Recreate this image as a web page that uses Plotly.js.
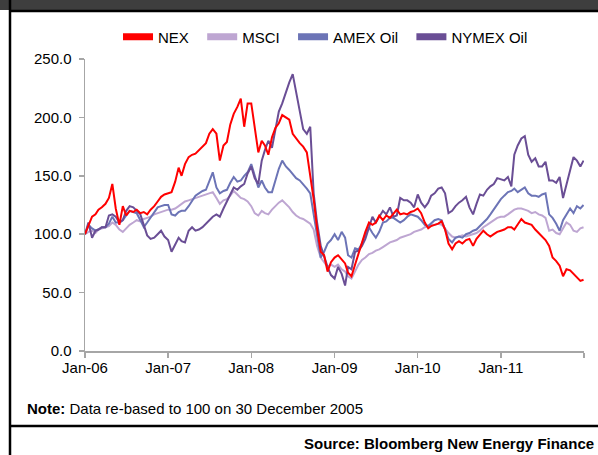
<!DOCTYPE html>
<html>
<head>
<meta charset="utf-8">
<script src="https://cdn.plot.ly/plotly-3.0.1.min.js"></script>
<style>html,body{margin:0;padding:0;background:#fff;}#chart{width:598px;height:455px;}</style>
</head>
<body>
<div id="chart"></div>
<script>
// Semi-monthly observation grid: 1st and 16th of each month, Jan 2006 - Dec 2011
var dates = [];
for (var yr = 2006; yr <= 2011; yr++) {
  for (var mo = 1; mo <= 12; mo++) {
    var mm = (mo < 10 ? '0' : '') + mo;
    dates.push(yr + '-' + mm + '-01');
    dates.push(yr + '-' + mm + '-16');
  }
}
dates.push('2011-12-30');

var seriesNames = ['NEX', 'MSCI', 'AMEX Oil', 'NYMEX Oil'];

var nex = [
100,108,115,117,121,123,126,131,143,122,108,124,116,120,119,121,118,119,117,121,124,128,132,134,
135,136,145,157,150,160,166,168,169,172,175,178,186,190,186,163,176,179,194,203,209,216,192,212,
212,190,170,180,176,168,183,191,195,202,200,198,186,182,178,175,170,150,130,105,85,82,68,76,
80,82,78,75,67,64,74,84,92,102,110,108,110,116,112,116,114,118,121,117,118,117,119,120,
122,118,110,105,107,108,109,111,104,92,87,92,94,92,95,96,90,96,100,103,100,98,100,102,
103,104,106,106,104,108,113,110,109,108,104,101,98,95,90,80,77,73,64,70,69,66,63,60,61
];

var msci = [
100,102,103,101,104,105,106,107,110,108,104,102,105,108,110,112,111,113,114,115,117,118,119,120,
121,121,122,124,126,128,129,130,131,132,133,134,135,136,131,126,129,130,133,137,134,131,130,128,
124,118,116,120,118,117,121,124,127,129,126,123,119,116,114,113,111,109,104,90,80,76,72,74,
72,74,70,68,64,62,68,74,78,80,83,84,86,87,89,91,93,94,95,97,98,99,100,102,
103,104,106,107,108,108,109,108,105,101,98,97,98,99,98,99,100,101,103,106,108,110,112,114,
115,115,117,119,121,122,122,121,120,118,119,117,116,114,103,104,101,100,105,110,108,103,102,105,106
];

var amex = [
100,108,105,103,104,106,106,109,115,110,110,112,116,120,119,118,112,106,110,114,118,123,124,125,
125,117,116,119,120,120,124,129,133,135,137,138,146,153,140,135,137,138,144,149,145,146,150,153,
160,150,140,146,140,136,136,146,156,163,158,155,151,148,146,143,139,135,118,100,80,85,92,95,
100,95,102,97,82,80,88,87,92,100,106,101,97,102,110,111,114,114,112,110,112,115,117,116,
115,112,108,107,109,112,113,112,104,96,93,97,98,97,100,101,103,104,107,110,113,117,121,126,
130,133,136,137,139,136,138,140,135,133,133,132,134,135,117,114,109,103,112,117,122,118,124,122,125
];

var nymex = [
100,110,97,103,104,106,106,116,117,115,110,112,120,124,123,120,117,108,99,96,97,100,103,98,
95,85,92,97,94,93,103,106,103,104,106,109,112,115,117,115,122,128,133,140,138,141,143,152,
158,148,143,163,172,180,174,190,205,212,222,230,237,222,205,190,186,192,135,110,90,80,72,65,
62,72,66,56,72,70,85,86,90,96,106,115,110,115,120,117,123,115,116,131,129,129,127,123,
134,127,123,127,133,135,139,140,135,118,120,124,127,129,132,123,117,126,134,133,138,141,143,148,
147,146,149,141,168,176,182,184,168,162,165,158,158,162,146,146,144,149,131,143,154,166,163,158,163
];

var tickDates = ['2006-01-01','2007-01-01','2008-01-01','2009-01-01','2010-01-01','2011-01-01','2012-01-01'];
var tickLabels = ['Jan-06','Jan-07','Jan-08','Jan-09','Jan-10','Jan-11',''];
var yTicks = [0, 50, 100, 150, 200, 250];
var yTickLabels = ['0.0', '50.0', '100.0', '150.0', '200.0', '250.0'];

var colors = {
  'NEX': '#ff0000',
  'MSCI': '#bea6d2',
  'AMEX Oil': '#6c74b6',
  'NYMEX Oil': '#6a4e95'
};
var values = {'NEX': nex, 'MSCI': msci, 'AMEX Oil': amex, 'NYMEX Oil': nymex};

var traces = [];
// drawing order: MSCI, AMEX, NYMEX, NEX on top
['MSCI', 'AMEX Oil', 'NYMEX Oil', 'NEX'].forEach(function (n) {
  traces.push({
    type: 'scatter', mode: 'lines', x: dates, y: values[n], name: n,
    line: {color: colors[n], width: 2}, showlegend: false, hoverinfo: 'skip'
  });
});
// legend entries (thick swatches); trailing non-breaking spaces widen item spacing
seriesNames.forEach(function (n) {
  traces.push({
    type: 'scatter', mode: 'lines', x: [null], y: [null], name: n + '&nbsp;&nbsp;',
    line: {color: colors[n], width: 7}, showlegend: true
  });
});

function px(x) { return (x - 85) / 499; }
function py(y) { return (351 - y) / 292; }

var layout = {
  width: 598, height: 455,
  margin: {l: 85, r: 14, t: 59, b: 104},
  paper_bgcolor: '#ffffff', plot_bgcolor: '#ffffff',
  font: {family: 'Liberation Sans, Arial, sans-serif', size: 15, color: '#000'},
  showlegend: true,
  legend: {
    orientation: 'h', x: 0.49, xanchor: 'center', y: py(37), yanchor: 'middle',
    font: {size: 15, color: '#000'}, itemwidth: 30, tracegroupgap: 0,
    bgcolor: 'rgba(0,0,0,0)'
  },
  xaxis: {
    type: 'date', range: ['2006-01-01', '2012-01-01'],
    tickmode: 'array', tickvals: tickDates, ticktext: tickLabels,
    showgrid: false, zeroline: false, showline: true, linecolor: '#a6a6a6', linewidth: 1.5,
    ticks: 'outside', ticklen: 5, tickcolor: '#a6a6a6', tickwidth: 1.5,
    tickfont: {size: 15, color: '#000'}, ticklabelstandoff: -3, fixedrange: true
  },
  yaxis: {
    range: [0, 250], tickmode: 'array', tickvals: yTicks, ticktext: yTickLabels,
    showgrid: false, zeroline: false, showline: true, linecolor: '#a6a6a6', linewidth: 1.5,
    ticks: 'outside', ticklen: 5, tickcolor: '#a6a6a6', tickwidth: 1.5,
    tickfont: {size: 15, color: '#000'}, ticklabelstandoff: 4, fixedrange: true
  },
  shapes: [
    {type: 'rect', xref: 'paper', yref: 'paper', x0: px(0), x1: px(598), y0: py(0), y1: py(10),
     fillcolor: '#3e3e3e', line: {width: 0}},
    {type: 'line', xref: 'paper', yref: 'paper', x0: px(10), x1: px(598), y0: py(11), y1: py(11),
     line: {color: '#000', width: 2.5}},
    {type: 'line', xref: 'paper', yref: 'paper', x0: px(10), x1: px(10), y0: py(0), y1: py(455),
     line: {color: '#000', width: 2.5}},
    {type: 'line', xref: 'paper', yref: 'paper', x0: px(10), x1: px(598), y0: py(426), y1: py(426),
     line: {color: '#000', width: 2.5}}
  ],
  annotations: [
    {xref: 'paper', yref: 'paper', x: px(25), y: py(408), xanchor: 'left', yanchor: 'middle',
     showarrow: false, text: '<b>Note:</b> Data re-based to 100 on 30 December 2005',
     font: {size: 15, color: '#000'}},
    {xref: 'paper', yref: 'paper', x: px(596), y: py(443), xanchor: 'right', yanchor: 'middle',
     showarrow: false, text: '<b>Source: Bloomberg New Energy Finance</b>',
     font: {size: 15, color: '#000'}}
  ]
};

Plotly.newPlot('chart', traces, layout, {staticPlot: true, displayModeBar: false});
</script>
</body>
</html>
